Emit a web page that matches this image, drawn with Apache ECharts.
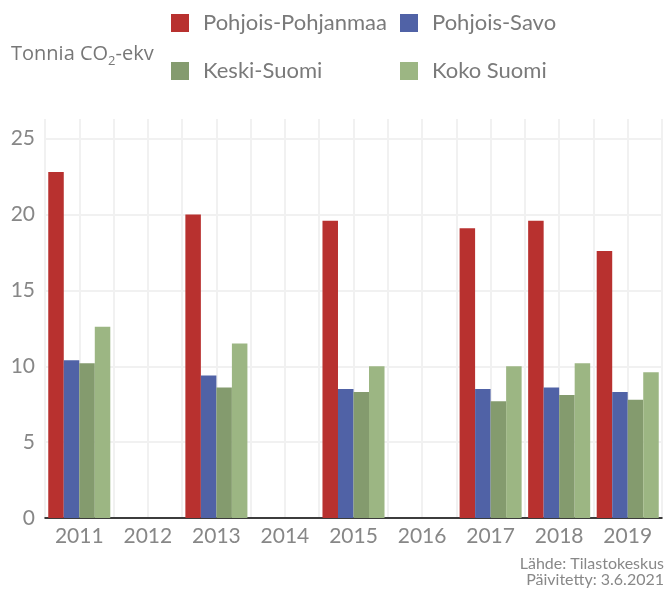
<!DOCTYPE html>
<html>
<head>
<meta charset="utf-8">
<script src="https://cdn.jsdelivr.net/npm/echarts@6/dist/echarts.min.js"></script>
<style>
html,body{margin:0;padding:0;background:#fff;}
#chart{width:666px;height:592px;}
</style>
</head>
<body>
<div id="chart"></div>
<script>
var categories = ['2011','2012','2013','2014','2015','2016','2017','2018','2019'];
var pohjoisPohjanmaa = [22.8, null, 20.0, null, 19.6, null, 19.1, 19.6, 17.6];
var pohjoisSavo      = [10.4, null, 9.4,  null, 8.5,  null, 8.5,  8.6,  8.3];
var keskiSuomi       = [10.2, null, 8.6,  null, 8.3,  null, 7.7,  8.1,  7.8];
var kokoSuomi        = [12.6, null, 11.5, null, 10.0, null, 10.0, 10.2, 9.6];
var seriesNames = ['Pohjois-Pohjanmaa','Pohjois-Savo','Keski-Suomi','Koko Suomi'];
var colors = ['#b8312f','#5062a6','#849b6e','#9cb683'];
var yTicks = [0,5,10,15,20,25];

var halfCats = [];
categories.forEach(function(c){ halfCats.push(''); halfCats.push(''); });

var chart = echarts.init(document.getElementById('chart'), null, {renderer:'canvas'});
var FONT = 'Lato';
var txtColor = '#878787';

function legendAt(name, left, top){
  return {
    data:[name], left:left, top:top, padding:0, orient:'horizontal',
    icon:'rect', itemWidth:18, itemHeight:18,
    textStyle:{fontFamily:FONT, fontSize:22, color:'#7a7a7a', padding:[0,0,0,9]}
  };
}

var seriesData = [pohjoisPohjanmaa, pohjoisSavo, keskiSuomi, kokoSuomi];

var option = {
  animation:false,
  color: colors,
  title:{
    text:'{a|Tonnia CO}{s|2}{a|-ekv}',
    left:11, top:40, padding:0,
    textStyle:{
      fontWeight:'normal',
      rich:{
        a:{fontFamily:'Open Sans', fontWeight:'normal', fontSize:20, color:'#777', lineHeight:28, verticalAlign:'middle'},
        s:{fontFamily:'Open Sans', fontWeight:'normal', fontSize:13, color:'#777', lineHeight:14, verticalAlign:'bottom'}
      }
    }
  },
  legend:[
    legendAt(seriesNames[0], 171, 12),
    legendAt(seriesNames[1], 400, 12),
    legendAt(seriesNames[2], 171, 60),
    legendAt(seriesNames[3], 400, 60)
  ],
  grid:{left:45, right:4, top:119, bottom:74, containLabel:false},
  xAxis:[{
    type:'category', data:categories, position:'bottom',
    axisLine:{show:true, lineStyle:{color:'#000', width:1.5}},
    axisTick:{show:false},
    splitLine:{show:false},
    axisLabel:{fontFamily:FONT, fontSize:21, color:txtColor, margin:8}
  },{
    type:'category', data:halfCats, position:'bottom', boundaryGap:true,
    axisLine:{show:false}, axisTick:{show:false}, axisLabel:{show:false},
    splitLine:{show:true, interval:0, lineStyle:{color:'#f1f1f1', width:2}}
  }],
  yAxis:{
    type:'value', min:0, max:26.3, interval:5,
    axisLine:{show:false}, axisTick:{show:false},
    axisLabel:{fontFamily:FONT, fontSize:21, color:txtColor, margin:10,
      formatter:function(v){ return yTicks.indexOf(v) >= 0 ? String(v) : ''; }},
    splitLine:{show:true, lineStyle:{color:['#f1f1f1','#f1f1f1','#f1f1f1','#f1f1f1','#f1f1f1','#f1f1f1','rgba(0,0,0,0)'], width:2}}
  },
  series: seriesNames.map(function(n,i){
    return {
      name:n, type:'bar', xAxisIndex:0, data:seriesData[i],
      barGap:'0%', barCategoryGap:'9.5%',
      itemStyle:{color:colors[i]}
    };
  }),
  graphic:[
    {type:'text', right:2, top:556, style:{text:'Lähde: Tilastokeskus', fontFamily:FONT, fontSize:16, fill:'#888', textAlign:'right'}},
    {type:'text', right:2, top:572, style:{text:'Päivitetty: 3.6.2021', fontFamily:FONT, fontSize:16, fill:'#888', textAlign:'right'}}
  ]
};
chart.setOption(option);
</script>
</body>
</html>
